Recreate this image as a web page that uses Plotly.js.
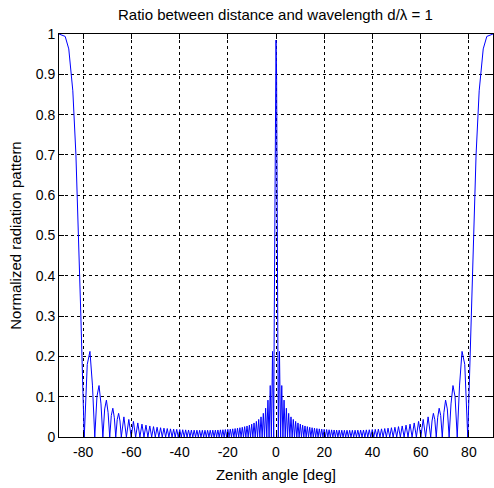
<!DOCTYPE html>
<html>
<head>
<meta charset="utf-8">
<script src="https://cdn.plot.ly/plotly-3.0.1.min.js"></script>
<style>html,body{margin:0;padding:0;background:#fff;}#chart{width:494px;height:488px;}</style>
</head>
<body>
<div id="chart"></div>
<script>
// Zenith angle [deg], negative half (from -90 towards 0)
const angleNeg = [
  -90, -87.438, -85.949, -84.268, -82.978, -81.890, -80.931, -80.064, -79.525,
  -78.284, -77.162, -76.128, -75.165, -74.260, -73.402, -72.586, -71.805,
  -71.056, -70.333, -69.636, -68.961, -68.305, -67.668, -67.048, -66.466,
  -65.853, -65.276, -64.711, -64.158, -63.083, -62.047, -61.045, -60.074,
  -59.131, -58.212, -57.318, -56.443, -55.588, -54.753, -53.933, -53.130,
  -52.342, -51.567, -50.804, -50.056, -49.318, -48.590, -47.874, -47.167,
  -46.469, -45.780, -45.099, -44.427, -43.763, -43.104, -42.454, -41.810,
  -41.173, -40.542, -39.916, -39.296, -38.683, -38.073, -37.469, -36.870,
  -36.275, -35.685, -35.099, -34.518, -33.941, -33.367, -32.797, -32.231,
  -31.668, -31.109, -30.553, -30.000, -29.450, -28.903, -28.359, -27.818,
  -27.280, -26.744, -26.210, -25.679, -25.150, -24.624, -24.100, -23.578,
  -23.058, -22.540, -22.024, -21.510, -20.998, -20.487, -19.978, -19.471,
  -18.966, -18.462, -17.959, -17.458, -16.958, -16.459, -15.962, -15.466,
  -14.971, -14.478, -13.985, -13.493, -13.003, -12.513, -12.025, -11.537,
  -11.050, -10.564, -10.078, -9.594, -9.110, -8.627, -8.144, -7.662,
  -7.181, -6.700, -6.219, -5.739, -5.259, -4.780, -4.301, -3.822,
  -3.344, -2.866, -2.388, -1.910, -1.433, -0.955, -0.720, -0.480, -0.240
];
const patternNeg = [
  1, 0.994, 0.963, 0.859, 0.700, 0.505, 0.300, 0.109, 0,
  0.1802, 0.2124, 0.1288, 0, 0.1003, 0.1277, 0.0821, 0,
  0.0696, 0.0915, 0.0604, 0, 0.0534, 0.0714, 0.0479, 0,
  0.0434, 0.0587, 0.0397, 0, 0.0499, 0, 0.0436, 0,
  0.0387, 0, 0.0349, 0, 0.0319, 0, 0.0294, 0,
  0.0274, 0, 0.0257, 0, 0.0242, 0, 0.0230, 0,
  0.0219, 0, 0.0210, 0, 0.0202, 0, 0.0195, 0,
  0.0190, 0, 0.0185, 0, 0.0180, 0, 0.0177, 0,
  0.0174, 0, 0.0171, 0, 0.0170, 0, 0.0168, 0,
  0.0167, 0, 0.0167, 0, 0.0167, 0, 0.0167, 0,
  0.0168, 0, 0.0170, 0, 0.0171, 0, 0.0174, 0,
  0.0177, 0, 0.0180, 0, 0.0185, 0, 0.0190, 0,
  0.0195, 0, 0.0202, 0, 0.0210, 0, 0.0219, 0,
  0.0230, 0, 0.0242, 0, 0.0257, 0, 0.0274, 0,
  0.0294, 0, 0.0319, 0, 0.0349, 0, 0.0387, 0,
  0.0436, 0, 0.0499, 0, 0.0587, 0, 0.0714, 0,
  0.0915, 0, 0.1277, 0, 0.2124, 0, 0.294, 0.633, 0.900
];
// Main beam peak
const anglePeak = [0];
const patternPeak = [0.985];
// Zenith angle [deg], positive half (from 0 towards 90)
const anglePos = [
  0.240, 0.480, 0.720, 0.955, 1.433, 1.910, 2.388, 2.866, 3.344,
  3.822, 4.301, 4.780, 5.259, 5.739, 6.219, 6.700, 7.181,
  7.662, 8.144, 8.627, 9.110, 9.594, 10.078, 10.564, 11.050,
  11.537, 12.025, 12.513, 13.003, 13.493, 13.985, 14.478, 14.971,
  15.466, 15.962, 16.459, 16.958, 17.458, 17.959, 18.462, 18.966,
  19.471, 19.978, 20.487, 20.998, 21.510, 22.024, 22.540, 23.058,
  23.578, 24.100, 24.624, 25.150, 25.679, 26.210, 26.744, 27.280,
  27.818, 28.359, 28.903, 29.450, 30.000, 30.553, 31.109, 31.668,
  32.231, 32.797, 33.367, 33.941, 34.518, 35.099, 35.685, 36.275,
  36.870, 37.469, 38.073, 38.683, 39.296, 39.916, 40.542, 41.173,
  41.810, 42.454, 43.104, 43.763, 44.427, 45.099, 45.780, 46.469,
  47.167, 47.874, 48.590, 49.318, 50.056, 50.804, 51.567, 52.342,
  53.130, 53.933, 54.753, 55.588, 56.443, 57.318, 58.212, 59.131,
  60.074, 61.045, 62.047, 63.083, 64.158, 64.711, 65.276, 65.853,
  66.466, 67.048, 67.668, 68.305, 68.961, 69.636, 70.333, 71.056,
  71.805, 72.586, 73.402, 74.260, 75.165, 76.128, 77.162, 78.284,
  79.525, 80.064, 80.931, 81.890, 82.978, 84.268, 85.949, 87.438, 90
];
const patternPos = [
  0.900, 0.633, 0.294, 0, 0.2124, 0, 0.1277, 0, 0.0915,
  0, 0.0714, 0, 0.0587, 0, 0.0499, 0, 0.0436,
  0, 0.0387, 0, 0.0349, 0, 0.0319, 0, 0.0294,
  0, 0.0274, 0, 0.0257, 0, 0.0242, 0, 0.0230,
  0, 0.0219, 0, 0.0210, 0, 0.0202, 0, 0.0195,
  0, 0.0190, 0, 0.0185, 0, 0.0180, 0, 0.0177,
  0, 0.0174, 0, 0.0171, 0, 0.0170, 0, 0.0168,
  0, 0.0167, 0, 0.0167, 0, 0.0167, 0, 0.0167,
  0, 0.0168, 0, 0.0170, 0, 0.0171, 0, 0.0174,
  0, 0.0177, 0, 0.0180, 0, 0.0185, 0, 0.0190,
  0, 0.0195, 0, 0.0202, 0, 0.0210, 0, 0.0219,
  0, 0.0230, 0, 0.0242, 0, 0.0257, 0, 0.0274,
  0, 0.0294, 0, 0.0319, 0, 0.0349, 0, 0.0387,
  0, 0.0436, 0, 0.0499, 0, 0.0397, 0.0587, 0.0434,
  0, 0.0479, 0.0714, 0.0534, 0, 0.0604, 0.0915, 0.0696,
  0, 0.0821, 0.1277, 0.1003, 0, 0.1288, 0.2124, 0.1802,
  0, 0.109, 0.300, 0.505, 0.700, 0.859, 0.963, 0.994, 1
];
const xTickVals = [-80, -60, -40, -20, 0, 20, 40, 60, 80];
const xTickText = ['-80', '-60', '-40', '-20', '0', '20', '40', '60', '80'];
const yTickVals = [0, 0.1, 0.2, 0.3, 0.4, 0.5, 0.6, 0.7, 0.8, 0.9, 1];
const yTickText = ['0', '0.1', '0.2', '0.3', '0.4', '0.5', '0.6', '0.7', '0.8', '0.9', '1'];

const zenith = angleNeg.concat(anglePeak, anglePos);
const pattern = patternNeg.concat(patternPeak, patternPos);

const font = {family: 'Liberation Sans, Arial, sans-serif', size: 14, color: '#000'};
const axisCommon = {
  showline: true, linecolor: '#000', linewidth: 1, mirror: 'ticks',
  ticks: 'inside', ticklen: 5, tickcolor: '#000', tickwidth: 1,
  showgrid: true, gridcolor: '#000', gridwidth: 1, griddash: 'dot',
  zeroline: false, tickfont: font, automargin: false
};

Plotly.newPlot('chart', [{
  x: zenith, y: pattern, type: 'scatter', mode: 'lines',
  line: {color: '#0000ff', width: 1}, hoverinfo: 'skip'
}], {
  width: 494, height: 488,
  margin: {l: 59, r: 1, t: 34, b: 51},
  paper_bgcolor: '#fff', plot_bgcolor: '#fff',
  showlegend: false,
  font: font,
  title: {text: 'Ratio between distance and wavelength d/λ = 1', font: {family: font.family, size: 15, color: '#000'},
          x: 0.5575, xref: 'container', xanchor: 'center', y: 1 - 15/488, yref: 'container', yanchor: 'middle'},
  xaxis: Object.assign({}, axisCommon, {
    range: [-90, 90], tickmode: 'array', tickvals: xTickVals, ticktext: xTickText,
    ticklabelstandoff: 2,
    title: {text: 'Zenith angle [deg]', font: {family: font.family, size: 15, color: '#000'}, standoff: 10}
  }),
  yaxis: Object.assign({}, axisCommon, {
    range: [0, 1], tickmode: 'array', tickvals: yTickVals, ticktext: yTickText,
    title: {text: 'Normalized radiation pattern', font: {family: font.family, size: 15, color: '#000'}, standoff: 10}
  })
}, {staticPlot: true});
</script>
</body>
</html>
